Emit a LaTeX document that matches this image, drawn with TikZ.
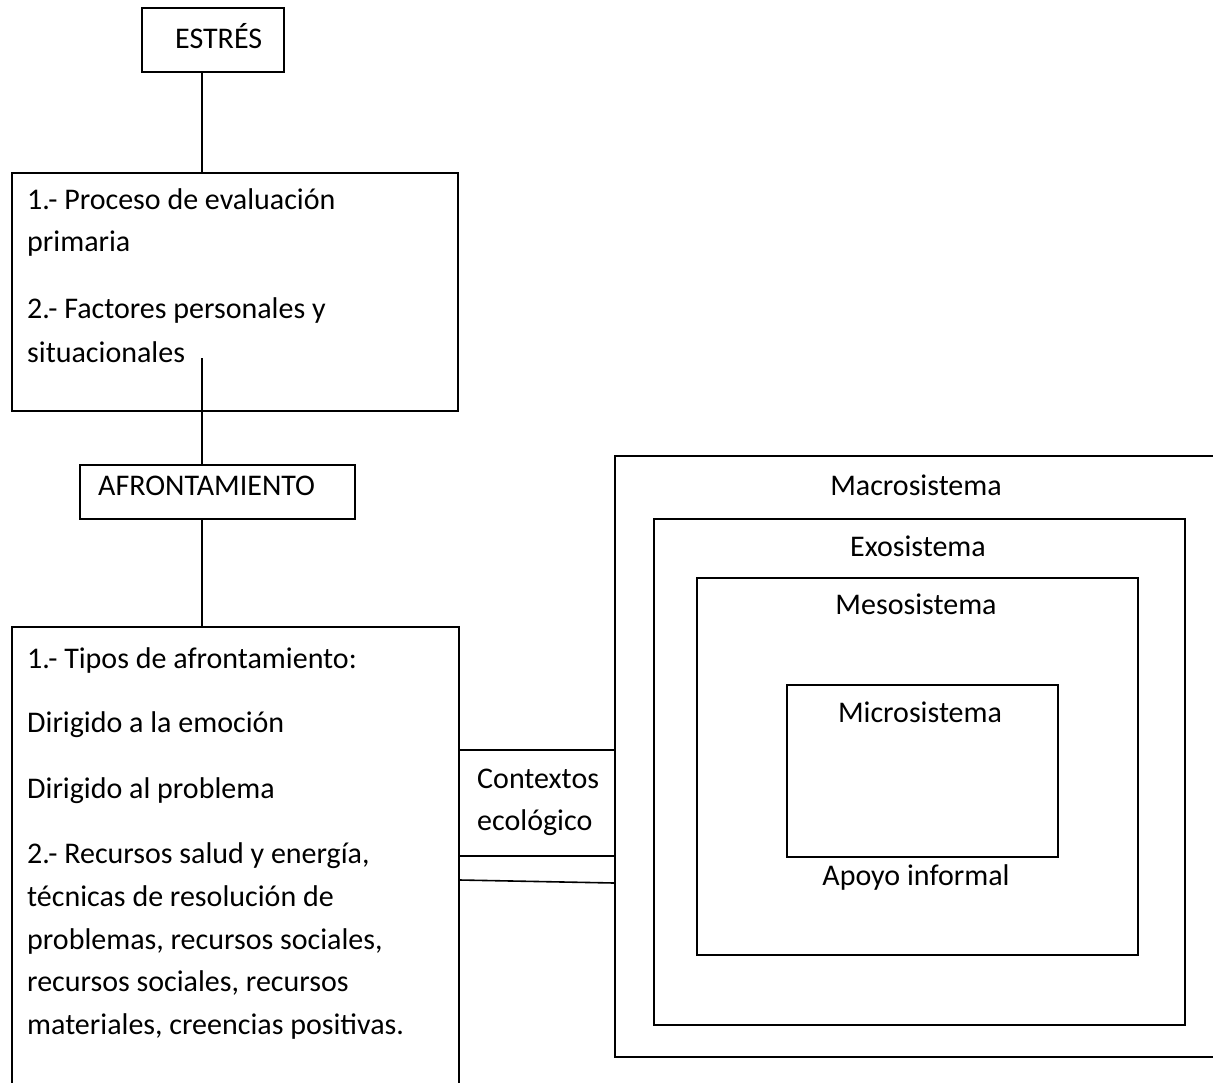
\documentclass[tikz,border=0pt]{standalone}
\usepackage{fontspec}
\setmainfont{Carlito}
\begin{document}
\begin{tikzpicture}[x=1pt,y=-1pt,
        caja/.style={draw, line width=1.6pt, inner sep=0pt, anchor=north west},
        texto/.style={anchor=base west, inner sep=0pt, font=\fontsize{30}{42}\selectfont},
        centro/.style={anchor=base, inner sep=0pt, font=\fontsize{30}{42}\selectfont}]
        \clip (0,0) rectangle (1213,1082);
        % cajas de la izquierda
        \node[caja, minimum width=142pt, minimum height=64pt] (estres) at (141,7) {};
        \node[caja, minimum width=446pt, minimum height=238pt] (evaluacion) at (11,172) {};
        \node[caja, minimum width=275pt, minimum height=54pt] (afront) at (79,464) {};
        \node[caja, minimum width=447pt, minimum height=500pt] (tipos) at (11,626) {};
        % sistemas ecologicos
        \node[caja, minimum width=620pt, minimum height=601pt] (macro) at (614,455) {};
        \node[caja, minimum width=531pt, minimum height=506pt] (exo) at (653,518) {};
        \node[caja, minimum width=441pt, minimum height=377pt] (meso) at (696,577) {};
        \node[caja, minimum width=271pt, minimum height=172pt] (micro) at (786,684) {};
        % textos
        \node[texto] (testres) at (175,48) {ESTRÉS};
        \node[texto] (tafront) at (98,495) {AFRONTAMIENTO};
        \foreach \t/\y [count=\i] in {{1.- Proceso de evaluación}/209, primaria/251,
                {2.- Factores personales y}/318, situacionales/362}
            \node[texto] (ev\i) at (27,\y) {\t};
        \foreach \t/\y [count=\i] in {{1.- Tipos de afrontamiento:}/668,
                {Dirigido a la emoción}/732, {Dirigido al problema}/798,
                {2.- Recursos salud y energía,}/863, {técnicas de resolución de}/906,
                {problemas, recursos sociales,}/949, {recursos sociales, recursos}/991,
                {materiales, creencias positivas.}/1034}
            \node[texto] (ti\i) at (27,\y) {\t};
        \node[texto] (ctx1) at (477,788) {Contextos};
        \node[texto] (ctx2) at (477,830) {ecológico};
        \node[centro] (tmacro) at (916,495) {Macrosistema};
        \node[centro] (texo) at (918,556) {Exosistema};
        \node[centro] (tmeso) at (916,614) {Mesosistema};
        \node[centro] (tmicro) at (920,722) {Microsistema};
        \node[centro] (tapoyo) at (916,885) {Apoyo informal};
        % conectores
        \coordinate (eje) at (202,0);
        \coordinate (inicio) at (202,358);
        \draw[line width=1.6pt] (eje |- estres.south) -- (eje |- evaluacion.north);
        \draw[line width=1.6pt] (inicio) -- (eje |- afront.north);
        \draw[line width=1.6pt] (eje |- afront.south) -- (eje |- tipos.north);
        \draw[line width=1.6pt] (tipos.east |- 0,750) -- (macro.west |- 0,750);
        \draw[line width=1.6pt] (tipos.east |- 0,856) -- (macro.west |- 0,856);
        \draw[line width=1.6pt] (tipos.east |- 0,880) -- (macro.west |- 0,883);
    \end{tikzpicture}
\end{document}
